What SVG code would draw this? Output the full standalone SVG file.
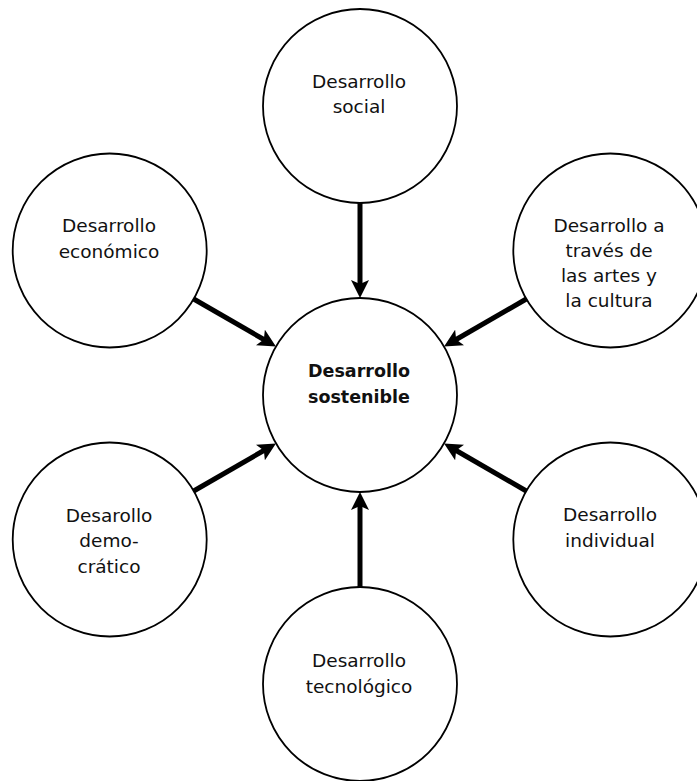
<svg xmlns="http://www.w3.org/2000/svg" width="697" height="781" viewBox="0 0 697 781">
<style>
.node circle{fill:#fff;stroke:#000;stroke-width:1.8}
.node text{font-family:"DejaVu Sans",Verdana,sans-serif;font-size:18.5px;fill:#111;text-anchor:middle}
#center text{font-weight:bold;font-size:17.5px}
.conn line{stroke:#000;stroke-width:5;marker-end:url(#ah)}
</style>
<defs>
<marker id="ah" viewBox="0 0 18 18" refX="8" refY="9" markerWidth="18" markerHeight="18" markerUnits="userSpaceOnUse" orient="auto">
<path d="M0,0 L18,9 L0,18 L4,9 z" fill="#000"/>
</marker>
</defs>
<rect width="697" height="781" fill="#fff"/>
<g id="top" class="node"><circle cx="360" cy="106" r="97"/><text x="359" y="88">Desarrollo</text><text x="359" y="113">social</text></g>
<g id="upper-left" class="node"><circle cx="109.7" cy="250.5" r="97"/><text x="109" y="232">Desarrollo</text><text x="109" y="258">económico</text></g>
<g id="upper-right" class="node"><circle cx="610.3" cy="250.5" r="97"/><text x="609" y="232">Desarrollo a</text><text x="609" y="257">través de</text><text x="609" y="282">las artes y</text><text x="609" y="307">la cultura</text></g>
<g id="lower-left" class="node"><circle cx="109.7" cy="539.5" r="97"/><text x="109" y="522">Desarollo</text><text x="109" y="547">demo-</text><text x="109" y="573">crático</text></g>
<g id="lower-right" class="node"><circle cx="610.3" cy="539.5" r="97"/><text x="610" y="521">Desarrollo</text><text x="610" y="547">individual</text></g>
<g id="bottom" class="node"><circle cx="360" cy="684" r="97"/><text x="359" y="667">Desarrollo</text><text x="359" y="693">tecnológico</text></g>
<g id="center" class="node"><circle cx="360" cy="395" r="97"/><text x="359" y="377">Desarrollo</text><text x="359" y="403">sostenible</text></g>
<g id="connectors" class="conn">
<line x1="360" y1="203" x2="360" y2="288"/>
<line x1="360" y1="587" x2="360" y2="502"/>
<line x1="193.7" y1="299" x2="267.3" y2="341.5"/>
<line x1="193.7" y1="491" x2="267.3" y2="448.5"/>
<line x1="526.3" y1="299" x2="452.7" y2="341.5"/>
<line x1="526.3" y1="491" x2="452.7" y2="448.5"/>
</g>
</svg>
